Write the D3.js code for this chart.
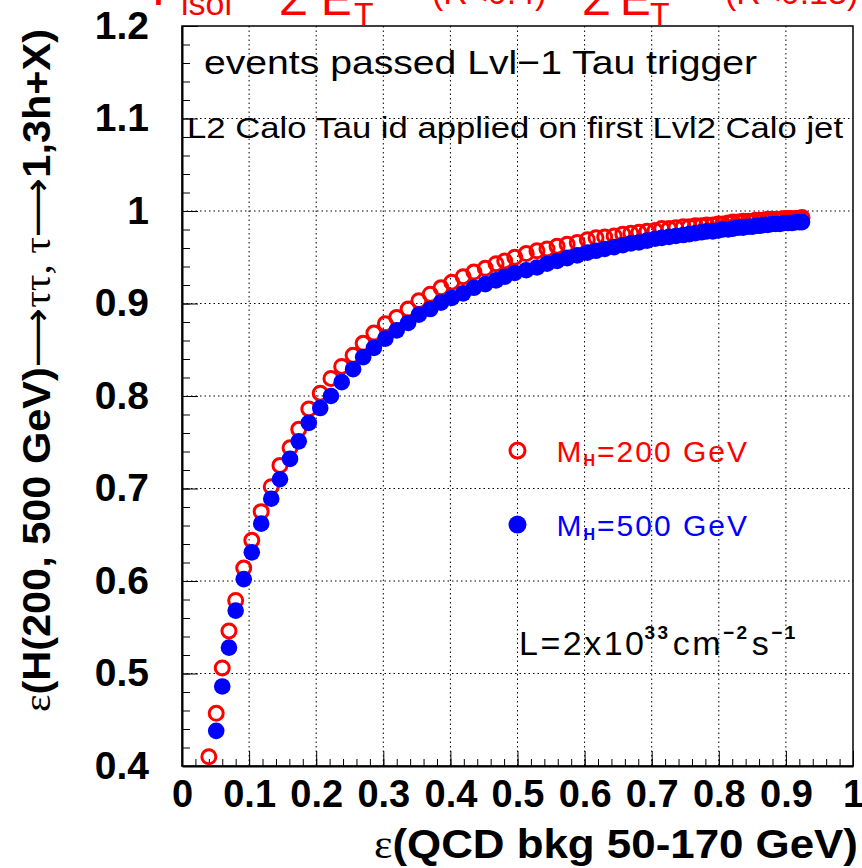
<!DOCTYPE html>
<html>
<head>
<meta charset="utf-8">
<script src="https://cdn.jsdelivr.net/npm/d3@7"></script>
<style>
  html, body { margin: 0; padding: 0; background: #fff; }
  svg { display: block; }
</style>
</head>
<body>
<div id="chart"></div>
<script>
// efficiency of QCD background (x) and of H->tautau signal (y), one point per cut value
const effQCD = [
  0.040, 0.051, 0.060, 0.070, 0.080, 0.092, 0.104, 0.118, 0.133, 0.146,
  0.161, 0.174, 0.189, 0.206, 0.222, 0.238, 0.255, 0.270, 0.286, 0.303,
  0.320, 0.337, 0.353, 0.370, 0.386, 0.402, 0.419, 0.435, 0.452, 0.468,
  0.481, 0.496, 0.513, 0.529, 0.544, 0.559, 0.574, 0.589, 0.604, 0.617,
  0.630, 0.644, 0.657, 0.669, 0.681, 0.693, 0.705, 0.715, 0.726, 0.736,
  0.747, 0.756, 0.765, 0.774, 0.782, 0.791, 0.799, 0.806, 0.814, 0.821,
  0.829, 0.836, 0.844, 0.850, 0.855, 0.861, 0.867, 0.873, 0.879, 0.885,
  0.891, 0.897, 0.903, 0.909, 0.915, 0.920, 0.924
];
const effH200 = [
  0.410, 0.457, 0.506, 0.546, 0.579, 0.614, 0.644, 0.675, 0.702, 0.725,
  0.744, 0.764, 0.786, 0.803, 0.819, 0.832, 0.844, 0.857, 0.868, 0.878,
  0.885, 0.894, 0.903, 0.910, 0.917, 0.923, 0.929, 0.934, 0.938, 0.943,
  0.946, 0.950, 0.954, 0.957, 0.959, 0.962, 0.964, 0.966, 0.969, 0.971,
  0.972, 0.973, 0.975, 0.976, 0.977, 0.978, 0.979, 0.981, 0.981, 0.982,
  0.983, 0.983, 0.984, 0.984, 0.985, 0.985, 0.986, 0.986, 0.987, 0.988,
  0.988, 0.989, 0.989, 0.989, 0.990, 0.990, 0.990, 0.991, 0.991, 0.991,
  0.991, 0.992, 0.992, 0.992, 0.992, 0.992, 0.993
];
const effH500 = [
  0.390, 0.438, 0.486, 0.528, 0.568, 0.602, 0.631, 0.662, 0.689, 0.710,
  0.732, 0.751, 0.771, 0.787, 0.800, 0.815, 0.829, 0.842, 0.852, 0.862,
  0.871, 0.879, 0.888, 0.894, 0.901, 0.906, 0.911, 0.917, 0.921, 0.925,
  0.929, 0.933, 0.936, 0.939, 0.943, 0.946, 0.949, 0.952, 0.955, 0.957,
  0.959, 0.961, 0.963, 0.965, 0.966, 0.968, 0.970, 0.971, 0.972, 0.973,
  0.974, 0.975, 0.976, 0.977, 0.978, 0.978, 0.979, 0.980, 0.980, 0.981,
  0.982, 0.982, 0.983, 0.983, 0.984, 0.984, 0.985, 0.985, 0.986, 0.986,
  0.986, 0.987, 0.987, 0.987, 0.988, 0.988, 0.988
];
const xTicks = [0, 0.1, 0.2, 0.3, 0.4, 0.5, 0.6, 0.7, 0.8, 0.9, 1];
const yTicks = [0.4, 0.5, 0.6, 0.7, 0.8, 0.9, 1, 1.1, 1.2];
const seriesNames = ["200", "500"];

const W = 862, H = 868;
const frame = { left: 182, right: 853, top: 26, bottom: 766 };
const sans = "'Liberation Sans', Arial, Helvetica, sans-serif";
const serif = "'Liberation Serif', 'DejaVu Serif', serif";

const svg = d3.select("#chart").append("svg")
    .attr("width", W)
    .attr("height", H);

const x = d3.scaleLinear().domain([0, 1]).range([frame.left, frame.right]);
const y = d3.scaleLinear().domain([0.4, 1.2]).range([frame.bottom, frame.top]);

// grid (dotted)
const grid = svg.append("g").attr("stroke", "#000").attr("stroke-width", 1)
    .attr("stroke-dasharray", "1.5,3");
grid.selectAll(".gx").data(xTicks.slice(1, -1)).enter().append("line")
    .attr("x1", d => x(d)).attr("x2", d => x(d))
    .attr("y1", frame.top).attr("y2", frame.bottom);
grid.selectAll(".gy").data(yTicks.slice(1, -1)).enter().append("line")
    .attr("x1", frame.left).attr("x2", frame.right)
    .attr("y1", d => y(d)).attr("y2", d => y(d));

// frame
svg.append("rect")
    .attr("x", frame.left).attr("y", frame.top)
    .attr("width", frame.right - frame.left).attr("height", frame.bottom - frame.top)
    .attr("fill", "none").attr("stroke", "#000").attr("stroke-width", 1.5);

const fmt = d => (d === 0 || d === 1) ? String(d) : d3.format(".1f")(d);

// x axis, ticks pointing inward
const xMinor = d3.range(0, 1.0001, 0.02);
svg.append("g")
    .attr("transform", `translate(0,${frame.bottom})`)
    .call(d3.axisBottom(x).tickValues(xMinor).tickSizeInner(-7).tickSizeOuter(0).tickFormat(""))
    .call(g => g.select(".domain").attr("stroke-width", 2));
const xAxis = svg.append("g")
    .attr("transform", `translate(0,${frame.bottom})`)
    .call(d3.axisBottom(x).tickValues(xTicks).tickSizeInner(-15).tickSizeOuter(0)
        .tickPadding(14).tickFormat(fmt));
xAxis.select(".domain").remove();
xAxis.selectAll("text")
    .attr("font-family", sans).attr("font-weight", "bold")
    .attr("font-size", 38).attr("fill", "#000");

// y axis, ticks pointing inward
const yMinor = d3.range(0.4, 1.2001, 0.02);
svg.append("g")
    .attr("transform", `translate(${frame.left},0)`)
    .call(d3.axisLeft(y).tickValues(yMinor).tickSizeInner(-8).tickSizeOuter(0).tickFormat(""))
    .call(g => g.select(".domain").attr("stroke-width", 2));
const yAxis = svg.append("g")
    .attr("transform", `translate(${frame.left},0)`)
    .call(d3.axisLeft(y).tickValues(yTicks).tickSizeInner(-16).tickSizeOuter(0)
        .tickPadding(33).tickFormat(fmt));
yAxis.select(".domain").remove();
yAxis.selectAll("text")
    .attr("font-family", sans).attr("font-weight", "bold")
    .attr("font-size", 39).attr("fill", "#000");

// axis titles
const yTitle = svg.append("text")
    .attr("transform", `translate(50,712) rotate(-90)`)
    .attr("font-family", sans).attr("font-weight", "bold").attr("font-size", 38)
    .attr("textLength", 683).attr("lengthAdjust", "spacingAndGlyphs");
yTitle.append("tspan").attr("font-family", serif).attr("font-weight", "normal").text("ε");
yTitle.append("tspan").text("(H(200, 500 GeV)");
yTitle.append("tspan").attr("font-family", "'DejaVu Sans'").attr("font-weight", "normal").text("⟶");
yTitle.append("tspan").attr("font-family", serif).attr("font-weight", "normal").text("ττ, τ");
yTitle.append("tspan").attr("font-family", "'DejaVu Sans'").attr("font-weight", "normal").text("⟶");
yTitle.append("tspan").text("1,3h+X)");

const xTitle = svg.append("text")
    .attr("x", 858).attr("y", 858)
    .attr("text-anchor", "end")
    .attr("font-family", sans).attr("font-weight", "bold").attr("font-size", 41)
    .attr("textLength", 484).attr("lengthAdjust", "spacingAndGlyphs");
xTitle.append("tspan").attr("font-family", serif).attr("font-weight", "normal").text("ε");
xTitle.append("tspan").text("(QCD bkg 50-170 GeV)");

// red title, mostly cut off by the top edge
const titleBits = [
  { t: "P", x: 152, y: 5, fs: 50 },
  { t: "isol", x: 181, y: 15, fs: 34 },
  { t: "=", x: 240, y: 4, fs: 46 },
  { t: "Σ", x: 279, y: 15, fs: 46 },
  { t: "E", x: 321, y: 15, fs: 46 },
  { t: "T", x: 354, y: 25, fs: 32 },
  { t: "(R<0.4)", x: 432, y: 4, fs: 34 },
  { t: "−", x: 548, y: 4, fs: 46 },
  { t: "Σ", x: 582, y: 15, fs: 46 },
  { t: "E", x: 620, y: 15, fs: 46 },
  { t: "T", x: 650, y: 25, fs: 32 },
  { t: "(R<0.13)", x: 725, y: 4, fs: 34 }
];
svg.append("g").selectAll("text").data(titleBits).enter().append("text")
    .attr("x", d => d.x).attr("y", d => d.y)
    .attr("font-family", sans).attr("font-size", d => d.fs)
    .attr("fill", "#ff0000")
    .text(d => d.t);

// labels inside the frame
svg.append("text")
    .attr("x", 204).attr("y", 74)
    .attr("font-family", sans).attr("font-size", 34)
    .attr("textLength", 553).attr("lengthAdjust", "spacingAndGlyphs")
    .text("events passed Lvl−1 Tau trigger");
svg.append("text")
    .attr("x", 187).attr("y", 138)
    .attr("font-family", sans).attr("font-size", 30)
    .attr("textLength", 656).attr("lengthAdjust", "spacingAndGlyphs")
    .text("L2 Calo Tau id applied on first Lvl2 Calo jet");

// data points
const pts200 = effQCD.map((v, i) => ({ x: v, y: effH200[i] })).filter(d => d.y >= 0.4);
const pts500 = effQCD.map((v, i) => ({ x: v, y: effH500[i] })).filter(d => d.y >= 0.4);

svg.append("g").selectAll("circle").data(pts200).enter().append("circle")
    .attr("cx", d => x(d.x)).attr("cy", d => y(d.y)).attr("r", 7)
    .attr("fill", "none").attr("stroke", "#ff0000").attr("stroke-width", 3);
svg.append("g").selectAll("circle").data(pts500).enter().append("circle")
    .attr("cx", d => x(d.x)).attr("cy", d => y(d.y)).attr("r", 8.3)
    .attr("fill", "#0000ff");

// legend
const legY = [0.741, 0.661];
const legColor = ["#ff0000", "#0000ff"];
const leg = svg.append("g");
leg.append("circle")
    .attr("cx", x(0.5)).attr("cy", y(legY[0])).attr("r", 7.5)
    .attr("fill", "none").attr("stroke", legColor[0]).attr("stroke-width", 3);
leg.append("circle")
    .attr("cx", x(0.5)).attr("cy", y(legY[1])).attr("r", 9)
    .attr("fill", legColor[1]);
seriesNames.forEach((m, i) => {
  const t = leg.append("text")
      .attr("x", x(0.5) + 39).attr("y", y(legY[i]) + 11)
      .attr("font-family", sans).attr("font-size", 30)
      .attr("letter-spacing", 2)
      .attr("fill", legColor[i]);
  t.append("tspan").text("M");
  t.append("tspan").attr("font-size", 16).attr("font-weight", "bold").attr("dy", 4).text("H");
  t.append("tspan").attr("dy", -4).text(`=${m} GeV`);
});

// luminosity
const lum = svg.append("text")
    .attr("x", 519).attr("y", 655)
    .attr("font-family", sans).attr("font-size", 34).attr("fill", "#000")
    .attr("letter-spacing", 2.5);
lum.append("tspan").text("L=2x10");
lum.append("tspan").attr("font-size", 19).attr("font-weight", "bold").attr("dy", -16).attr("dx", -2).text("33");
lum.append("tspan").attr("dy", 16).attr("dx", 2).text("cm");
lum.append("tspan").attr("font-size", 19).attr("font-weight", "bold").attr("dy", -16).text("−2");
lum.append("tspan").attr("dy", 16).attr("dx", 2).text("s");
lum.append("tspan").attr("font-size", 19).attr("font-weight", "bold").attr("dy", -16).text("−1");
</script>
</body>
</html>
